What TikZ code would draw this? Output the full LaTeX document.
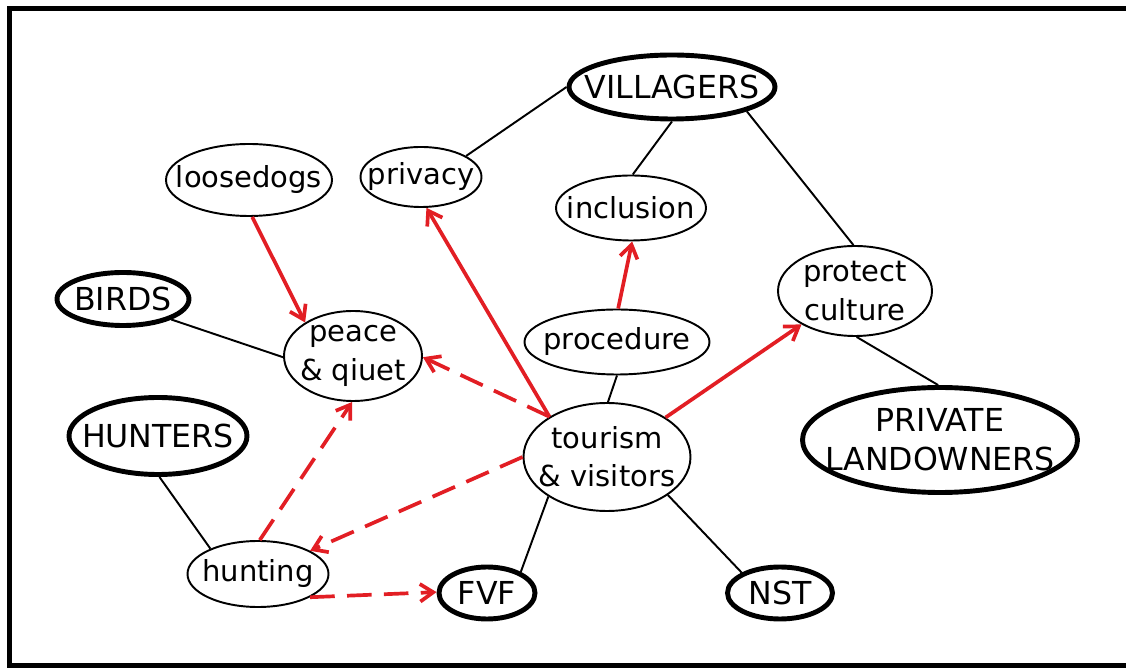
\documentclass[tikz,border=0pt]{standalone}
\usepackage{fontspec}
\setmainfont{DejaVu Sans}
\usetikzlibrary{shapes.geometric,arrows.meta}
\definecolor{arrowred}{RGB}{226,30,36}
\begin{document}
\begin{tikzpicture}[x=0.02cm,y=-0.02cm,
  sz/.style 2 args={minimum width={#1*0.02cm},minimum height={#2*0.02cm}},
  concept/.style={ellipse,draw,line width=1.1pt,inner sep=-40pt,align=center,
    font=\fontsize{16.5}{21.8}\selectfont},
  actor/.style={concept,line width=2.8pt,font=\fontsize{18}{22.2}\selectfont},
  link/.style={line width=1.1pt},
  influence/.style={draw=arrowred,line width=2.1pt,
    -{Straight Barb[length=7.5pt,width=10pt]}},
  weak/.style={influence,dash pattern=on 14pt off 7pt},
]
\useasboundingbox (0,0) rectangle (1126,668);
\clip (0,0) rectangle (1126,668);

% outer frame
\draw[line width=3.3pt] (1140,8.5) -- (9.5,8.5) -- (9.5,666) -- (1140,666);

% stakeholders
\node[actor,sz={206}{64}]  (vill)    at (672,87)  {VILLAGERS};
\node[actor,sz={132}{53}]  (birds)   at (123,299) {BIRDS};
\node[actor,sz={178}{77}]  (hunters) at (158,436) {HUNTERS};
\node[actor,sz={275}{105}] (land)    at (940,440) {PRIVATE\\LANDOWNERS};
\node[actor,sz={96}{52}]   (fvf)     at (487,593) {FVF};
\node[actor,sz={105}{52}]  (nst)     at (780,593) {NST};

% concerns
\node[concept,sz={166}{72}] (dogs)  at (249,180) {loosedogs};
\node[concept,sz={121}{60}] (priv)  at (421,177) {privacy};
\node[concept,sz={150}{65}] (incl)  at (631,208) {inclusion};
\node[concept,sz={154}{90}] (prot)  at (855,291) {protect\\culture};
\node[concept,sz={138}{90}] (peace) at (353,356) {peace\\\& qiuet};
\node[concept,sz={185}{65}] (proc)  at (617,342) {procedure};
\node[concept,sz={167}{108}] (tour) at (607,457) {tourism\\\& visitors};
\node[concept,sz={141}{66}] (hunt)  at (258,574) {hunting};

% associations
\draw[link] (priv.25) -- (vill.180);
\draw[link] (vill.270) -- (incl.87);
\draw[link] (vill.342) -- (prot.92);
\draw[link] (birds.337) -- (peace.181);
\draw[link] (hunters.272) -- (hunt.152);
\draw[link] (proc.270) -- (tour.89);
\draw[link] (tour.214) -- (fvf.32);
\draw[link] (tour.328) -- (nst.152);
\draw[link] (prot.272) -- (land.92);

% influences
\draw[influence] (dogs.275) -- (peace.145);
\draw[influence] (tour.145) -- (priv.280);
\draw[influence] (proc.88) -- (incl.272);
\draw[influence] (tour.34) -- (prot.212);
\draw[weak] (tour.145) -- (peace.359);
\draw[weak] (tour.180) -- (hunt.24);
\draw[weak] (hunt.87) -- (peace.269);
\draw[weak] (hunt.336) -- (fvf.179);
\end{tikzpicture}
\end{document}
